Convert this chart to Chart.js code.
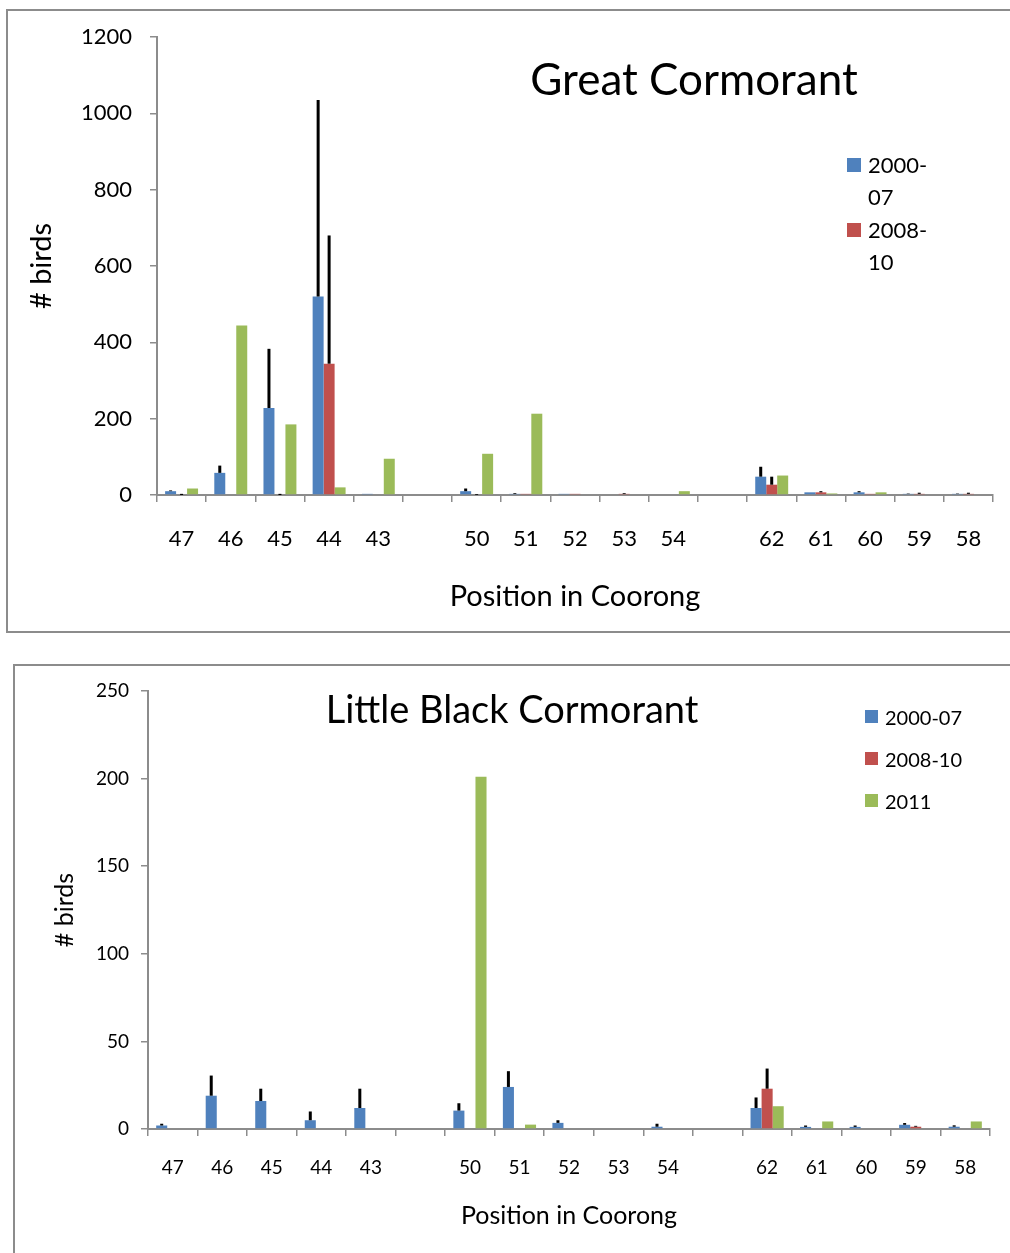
<!DOCTYPE html>
<html>
<head>
<meta charset="utf-8">
<script src="https://cdn.jsdelivr.net/npm/chart.js@4.4.1/dist/chart.umd.min.js"></script>
<style>
  html, body { margin: 0; padding: 0; background: #fff; overflow: hidden; }
  body { width: 1010px; height: 1253px; position: relative; font-family: Lato, sans-serif; color: #000; }
  .panel { position: absolute; border: 2px solid #8c8c8c; box-sizing: border-box; }
  #panelTop { left: 6px; top: 9px; width: 1030px; height: 624px; }
  #panelBottom { left: 13px; top: 664px; width: 1030px; height: 640px; }
  canvas { position: absolute; }
  .title { position: absolute; white-space: nowrap; line-height: 1; transform: translateX(-50%); }
  .swatch { position: absolute; }
  .legtext { position: absolute; white-space: nowrap; }
</style>
</head>
<body>
<div class="panel" id="panelTop"></div>
<div class="panel" id="panelBottom"></div>
<canvas id="gcChart" width="1002" height="620" style="left:8px;top:11px;"></canvas>
<canvas id="lbChart" width="995" height="587" style="left:15px;top:666px;"></canvas>

<div class="title" style="left:694px;top:56px;font-size:44px;">Great Cormorant</div>
<div class="swatch" style="left:847px;top:158px;width:14px;height:14px;background:#4F81BD;"></div>
<div class="legtext" style="left:868px;top:149px;font-size:22px;line-height:32px;">2000-<br>07</div>
<div class="swatch" style="left:847px;top:223px;width:14px;height:14px;background:#C0504D;"></div>
<div class="legtext" style="left:868px;top:214px;font-size:22px;line-height:32px;">2008-<br>10</div>

<div class="title" style="left:512px;top:689px;font-size:38px;">Little Black Cormorant</div>
<div class="swatch" style="left:865px;top:710px;width:13px;height:13px;background:#4F81BD;"></div>
<div class="legtext" style="left:885px;top:707px;font-size:20px;line-height:1;">2000-07</div>
<div class="swatch" style="left:865px;top:752px;width:13px;height:13px;background:#C0504D;"></div>
<div class="legtext" style="left:885px;top:749px;font-size:20px;line-height:1;">2008-10</div>
<div class="swatch" style="left:865px;top:794px;width:13px;height:13px;background:#9BBB59;"></div>
<div class="legtext" style="left:885px;top:791px;font-size:20px;line-height:1;">2011</div>

<script>
// ---- data ----
const positions = ['47', '46', '45', '44', '43', '', '50', '51', '52', '53', '54', '', '62', '61', '60', '59', '58'];

// Great Cormorant (mean and +SD)
const gcMean0007 = [10, 58, 228, 520, 3, null, 10, 3, 3, 0, 0, null, 48, 7, 7, 3, 3];
const gcErr0007  = [2, 19, 155, 515, 0, null, 7, 2, 0, 0, 0, null, 26, 0, 3, 1, 1];
const gcMean0810 = [0, 0, 0, 344, 0, null, 0, 3, 3, 3, 0, null, 27, 7, 3, 3, 3];
const gcErr0810  = [3, 0, 3, 336, 0, null, 2, 0, 0, 2, 0, null, 21, 3, 0, 3, 3];
const gcCount2011 = [17, 444, 185, 20, 95, null, 108, 213, 0, 0, 10, null, 51, 4, 7, 0, 0];
const gcTicks = [0, 200, 400, 600, 800, 1000, 1200];

// Little Black Cormorant (mean and +SD)
const lbMean0007 = [2, 19, 16, 5, 12, null, 10.5, 24, 3.5, 0, 1.3, null, 12, 1.2, 1.2, 2.4, 1.3];
const lbErr0007  = [1, 11.5, 7, 5, 11, null, 4.2, 9, 1.5, 0, 1.7, null, 6, 0.8, 0.8, 1, 0.8];
const lbMean0810 = [0, 0, 0, 0, 0, null, 0, 0, 0, 0, 0, null, 23, 0, 0, 1.3, 0];
const lbErr0810  = [0, 0, 0, 0, 0, null, 0, 0, 0, 0, 0, null, 11.5, 0, 0, 0.5, 0];
const lbCount2011 = [0, 0, 0, 0, 0, null, 201, 2.5, 0, 0, 0, null, 13, 4.3, 0, 0, 4.3];
const lbTicks = [0, 50, 100, 150, 200, 250];

const BLUE = '#4F81BD', RED = '#C0504D', GREEN = '#9BBB59', AXIS = '#8c8c8c';

// draws the black "+SD" lines on top of bars
const errorBars = {
  id: 'errorBars',
  afterDatasetsDraw(chart) {
    const { ctx, scales: { y } } = chart;
    ctx.save();
    ctx.strokeStyle = '#000';
    ctx.lineWidth = 3;
    chart.data.datasets.forEach((ds, i) => {
      if (!ds.errors) return;
      const meta = chart.getDatasetMeta(i);
      ds.errors.forEach((e, j) => {
        if (!e || ds.data[j] == null) return;
        const bar = meta.data[j];
        ctx.beginPath();
        ctx.moveTo(bar.x, bar.y);
        ctx.lineTo(bar.x, y.getPixelForValue(ds.data[j] + e));
        ctx.stroke();
      });
    });
    ctx.restore();
  }
};

function buildChart(id, s) {
  const ticks = s.ticks;
  return new Chart(document.getElementById(id), {
    type: 'bar',
    data: {
      labels: positions,
      datasets: [
        { label: '2000-07', data: s.m1, errors: s.e1, backgroundColor: BLUE },
        { label: '2008-10', data: s.m2, errors: s.e2, backgroundColor: RED },
        { label: '2011', data: s.m3, backgroundColor: GREEN }
      ]
    },
    options: {
      responsive: false,
      animation: false,
      events: [],
      categoryPercentage: 0.67,
      barPercentage: 1.0,
      layout: { padding: { top: s.padTop, right: s.padRight, left: 0, bottom: 0 } },
      plugins: { legend: { display: false }, tooltip: { enabled: false } },
      scales: {
        x: {
          grid: { display: true, offset: true, drawOnChartArea: false, drawTicks: true, tickLength: 7, color: AXIS, lineWidth: 1.5 },
          border: { color: AXIS, width: 2 },
          ticks: { color: '#000', font: { family: 'Lato', size: s.xFont }, padding: s.xPad, maxRotation: 0, autoSkip: false },
          title: { display: true, text: 'Position in Coorong', color: '#000', font: { family: 'Lato', size: s.titleFont }, padding: { top: 0, bottom: s.xTitlePad } },
          afterFit(scale) { scale.height = s.xHeight; }
        },
        y: {
          min: ticks[0],
          max: ticks[ticks.length - 1],
          afterBuildTicks(scale) { scale.ticks = ticks.map(v => ({ value: v })); },
          grid: { display: true, drawOnChartArea: false, drawTicks: true, tickLength: 7, color: AXIS, lineWidth: 1.5 },
          border: { color: AXIS, width: 2 },
          ticks: { color: '#000', font: { family: 'Lato', size: s.yFont }, padding: s.yPad, callback: v => String(v) },
          title: { display: true, text: '# birds', color: '#000', font: { family: 'Lato', size: s.titleFont }, padding: { top: s.yTitlePad, bottom: 0 } },
          afterFit(scale) {
            scale.width = s.yWidth;
            // keep the plot top where layout.padding puts it
            scale.paddingTop = 0;
            scale.paddingBottom = 0;
          }
        }
      }
    },
    plugins: [errorBars]
  });
}

buildChart('gcChart', {
  m1: gcMean0007, e1: gcErr0007, m2: gcMean0810, e2: gcErr0810, m3: gcCount2011,
  ticks: gcTicks,
  padTop: 26, padRight: 17, xHeight: 136, yWidth: 149,
  xFont: 22, yFont: 22, titleFont: 29,
  xPad: 24, yPad: 18, xTitlePad: 17, yTitlePad: 16
});

buildChart('lbChart', {
  m1: lbMean0007, e1: lbErr0007, m2: lbMean0810, e2: lbErr0810, m3: lbCount2011,
  ticks: lbTicks,
  padTop: 25, padRight: 20, xHeight: 124, yWidth: 133,
  xFont: 19, yFont: 19, titleFont: 25,
  xPad: 20, yPad: 12, xTitlePad: 22, yTitlePad: 35
});
</script>
</body>
</html>
